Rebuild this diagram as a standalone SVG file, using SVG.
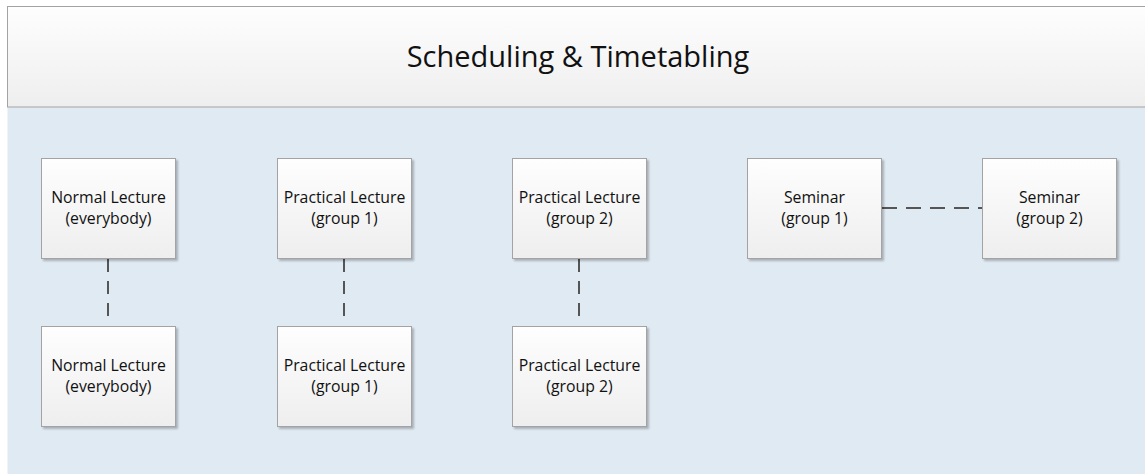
<svg xmlns="http://www.w3.org/2000/svg" width="1145" height="474" viewBox="0 0 1145 474">
<defs>
<linearGradient id="g" x1="0" y1="0" x2="0" y2="1"><stop offset="0" stop-color="#FEFEFE"/><stop offset="1" stop-color="#EEEEEE"/></linearGradient>
<filter id="sh" x="-10%" y="-10%" width="130%" height="130%"><feGaussianBlur in="SourceAlpha" stdDeviation="1.2"/><feOffset dx="2" dy="2"/><feComponentTransfer><feFuncA type="linear" slope="0.25"/></feComponentTransfer><feMerge><feMergeNode/><feMergeNode in="SourceGraphic"/></feMerge></filter>
</defs>
<style>
.n{fill:url(#g);stroke:#A3A3A3;stroke-width:1;filter:url(#sh)}
.t{font-family:"Open Sans","Liberation Sans",sans-serif;font-size:15.8px;fill:#111;text-anchor:middle}
.c{stroke:#555;stroke-width:2;stroke-dasharray:13 9;fill:none}
.h{stroke:#555;stroke-width:2;stroke-dasharray:15 9;fill:none}
</style>
<rect x="0" y="0" width="1145" height="474" fill="#FFFFFF"/>
<rect x="7.5" y="107" width="1140" height="370" fill="#E0EAF3"/>
<g id="title">
<rect x="7.5" y="6.5" width="1140" height="100.5" fill="url(#g)" stroke="#A3A3A3"/>
<text x="578" y="67" style="font-family:'Open Sans','Liberation Sans',sans-serif;font-size:29px;fill:#111;text-anchor:middle">Scheduling &amp; Timetabling</text>
</g>
<g id="connectors">
<line class="c" x1="108" y1="259" x2="108" y2="318"/>
<line class="c" x1="344" y1="259" x2="344" y2="318"/>
<line class="c" x1="579" y1="259" x2="579" y2="318"/>
<line class="h" x1="882" y1="208" x2="982" y2="208"/>
</g>
<g id="n1"><rect class="n" x="41.5" y="158.5" width="134" height="100"/><text class="t" x="108.5" y="203">Normal Lecture</text><text class="t" x="108.5" y="224">(everybody)</text></g>
<g id="n2"><rect class="n" x="277.5" y="158.5" width="134" height="100"/><text class="t" x="344.5" y="203">Practical Lecture</text><text class="t" x="344.5" y="224">(group 1)</text></g>
<g id="n3"><rect class="n" x="512.5" y="158.5" width="134" height="100"/><text class="t" x="579.5" y="203">Practical Lecture</text><text class="t" x="579.5" y="224">(group 2)</text></g>
<g id="n4"><rect class="n" x="747.5" y="158.5" width="134" height="100"/><text class="t" x="814.5" y="203">Seminar</text><text class="t" x="814.5" y="224">(group 1)</text></g>
<g id="n5"><rect class="n" x="982.5" y="158.5" width="134" height="100"/><text class="t" x="1049.5" y="203">Seminar</text><text class="t" x="1049.5" y="224">(group 2)</text></g>
<g id="n6"><rect class="n" x="41.5" y="326.5" width="134" height="100"/><text class="t" x="108.5" y="371">Normal Lecture</text><text class="t" x="108.5" y="392">(everybody)</text></g>
<g id="n7"><rect class="n" x="277.5" y="326.5" width="134" height="100"/><text class="t" x="344.5" y="371">Practical Lecture</text><text class="t" x="344.5" y="392">(group 1)</text></g>
<g id="n8"><rect class="n" x="512.5" y="326.5" width="134" height="100"/><text class="t" x="579.5" y="371">Practical Lecture</text><text class="t" x="579.5" y="392">(group 2)</text></g>
</svg>
